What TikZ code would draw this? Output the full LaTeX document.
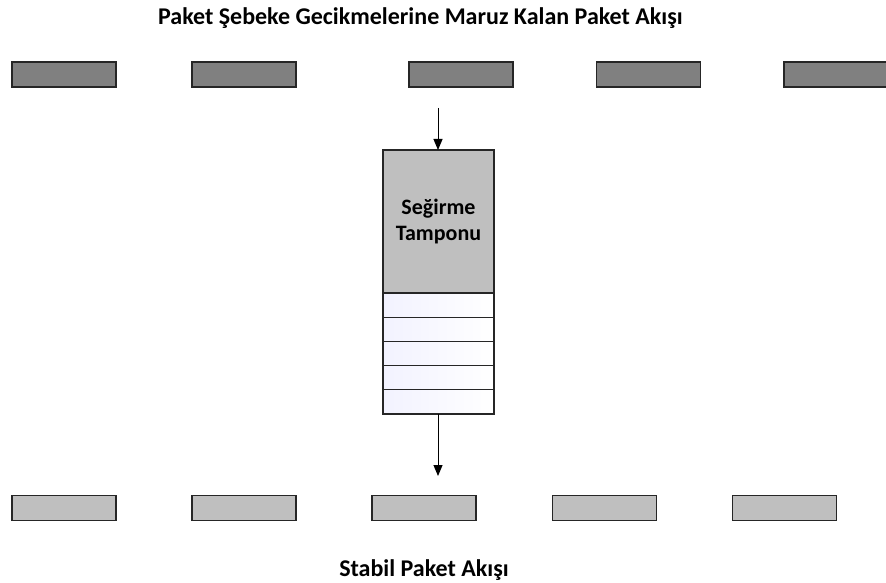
\documentclass[tikz,border=0pt]{standalone}
\usepackage{fontspec}
\setmainfont{Carlito}
\usetikzlibrary{arrows.meta}
\begin{document}
\begin{tikzpicture}[x=1pt,y=-1pt,
  line width=1.2pt,
  packet/.style={draw=black!85, minimum width=104pt, minimum height=25pt, inner sep=0pt},
  jitter/.style={packet, fill=black!50},
  steady/.style={packet, fill=black!25},
  bufhead/.style={draw=black!85, fill=black!25, minimum width=111pt, minimum height=143pt,
    inner sep=0pt, outer sep=0pt, font=\bfseries\fontsize{22}{26}\selectfont, align=center},
  slot/.style={draw=black!85, left color=blue!5!white, right color=white,
    minimum width=111pt, minimum height=24.2pt, inner sep=0pt, outer sep=0pt},
  caption/.style={font=\bfseries\fontsize{24}{28}\selectfont},
  flow/.style={-{Triangle[length=11pt,width=9pt]}, line width=1pt}]
\useasboundingbox (0,0) rectangle (886,583);

% incoming packets with irregular spacing
\node[jitter] (t1) at (64,74.5) {};
\node[jitter] (t2) at (244,74.5) {};
\node[jitter] (t3) at (461,74.5) {};
\node[jitter] (t4) at (648.5,74.5) {};
\node[jitter] (t5) at (836,74.5) {};

% jitter buffer: header and queue slots
\node[bufhead] (buf) at (438.5,221.5) {Seğirme\\Tamponu};
\node[slot, anchor=north] (s1) at (buf.south) {};
\node[slot, anchor=north] (s2) at (s1.south) {};
\node[slot, anchor=north] (s3) at (s2.south) {};
\node[slot, anchor=north] (s4) at (s3.south) {};
\node[slot, anchor=north] (s5) at (s4.south) {};

% outgoing packets with even spacing
\node[steady] (b1) at (64,508) {};
\node[steady] (b2) at (244,508) {};
\node[steady] (b3) at (424,508) {};
\node[steady] (b4) at (604.5,508) {};
\node[steady] (b5) at (784.5,508) {};

% arrows into and out of the buffer
\coordinate (in) at (438,108);
\coordinate (out) at (438,476);
\draw[flow] (in) -- (buf.north -| in);
\draw[flow] (s5.south -| out) -- (out);

% captions
\node[caption] (top) at (420.5,18) {Paket Şebeke Gecikmelerine Maruz Kalan Paket Akışı};
\node[caption] (bottom) at (424,570) {Stabil Paket Akışı};
\end{tikzpicture}
\end{document}
